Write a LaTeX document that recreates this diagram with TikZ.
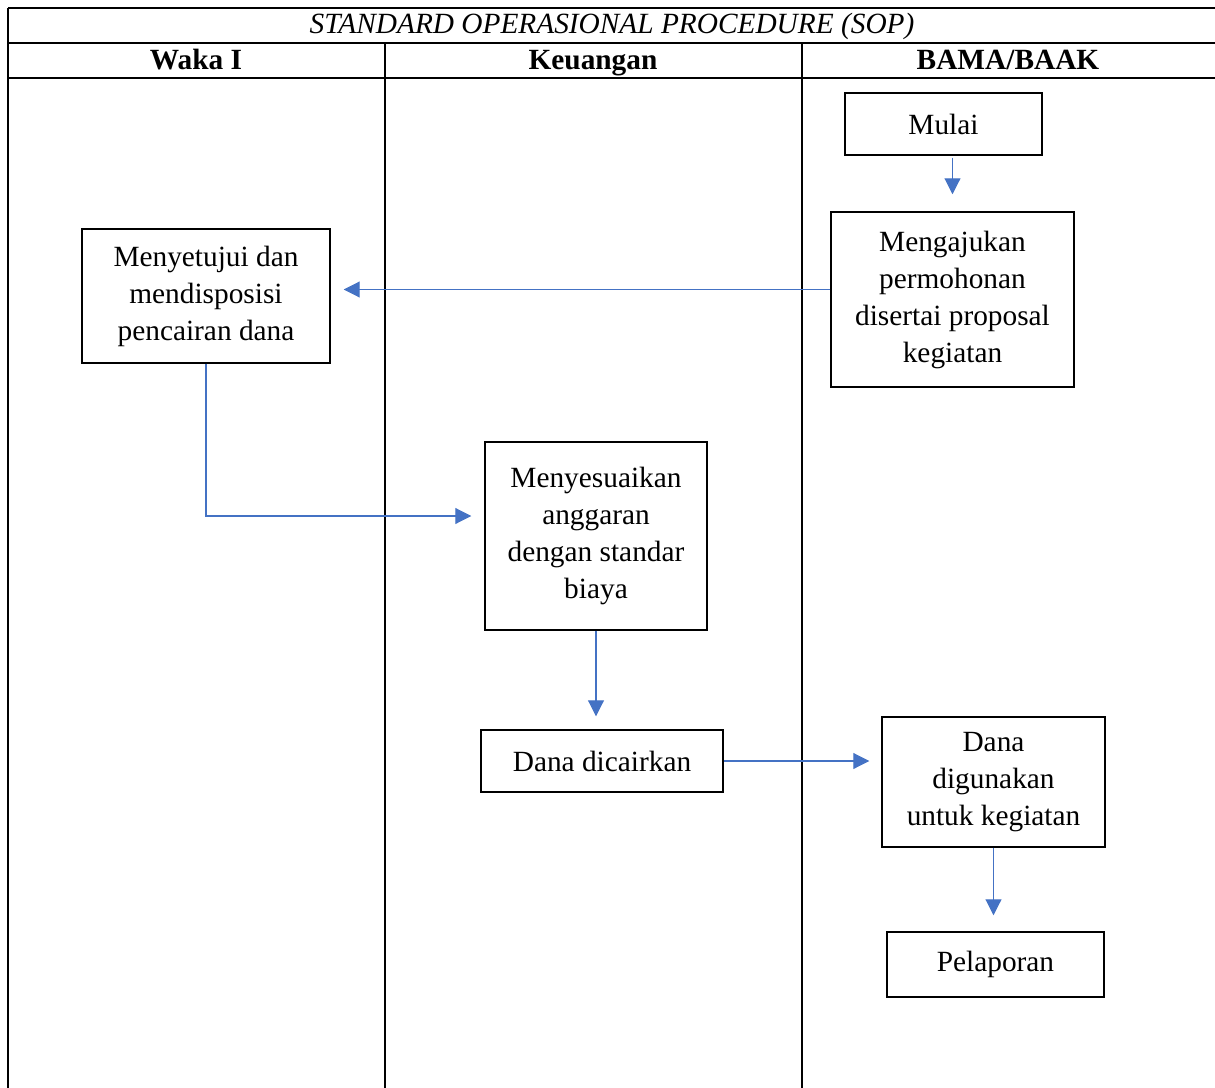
\documentclass[tikz,border=0pt]{standalone}
\usepackage{fontspec}
\setmainfont{Liberation Serif}
\usetikzlibrary{arrows.meta}

\definecolor{flowblue}{RGB}{68,114,196}

\tikzset{
  procbox/.style={draw, line width=1.1pt, align=center, inner sep=0pt,
    font=\fontsize{22}{27.75}\selectfont},
  flow/.style={draw=flowblue, line width=0.8pt,
    -{Triangle[length=12pt,width=12pt]}},
  headtext/.style={inner sep=0pt, anchor=base, font=\fontsize{22}{26}\selectfont\bfseries},
}

\begin{document}
\begin{tikzpicture}[x=0.75pt,y=0.75pt,yscale=-1,xscale=1]
        \useasboundingbox (0,0) rectangle (1215,1088);

        %Table lines
        \draw [line width=1.1pt] (8,8) -- (1215,8) ;
        \draw [line width=1.1pt] (8,43) -- (1215,43) ;
        \draw [line width=1.1pt] (8,78) -- (1215,78) ;
        \draw [line width=1.1pt] (8,8) -- (8,1088) ;
        \draw [line width=1.1pt] (385,43) -- (385,1088) ;
        \draw [line width=1.1pt] (802,43) -- (802,1088) ;

        % Text Node
        \node [inner sep=0pt, anchor=base, font=\fontsize{22}{26}\selectfont\itshape] (title) at (612,34) {STANDARD OPERASIONAL PROCEDURE (SOP)};
        % Text Node
        \node [headtext] (waka) at (196,70) {Waka I};
        % Text Node
        \node [headtext] (keu) at (593,70) {Keuangan};
        % Text Node
        \node [headtext] (bama) at (1008,70) {BAMA/BAAK};

        %Shape: Rectangle
        \node [procbox, minimum width=147.75pt, minimum height=46.5pt] (mulai) at (943.5,124) {Mulai};
        %Shape: Rectangle
        \node [procbox, minimum width=182.25pt, minimum height=131.25pt] (ajukan) at (952.5,299.5) {Mengajukan\\permohonan\\disertai proposal\\kegiatan};
        %Shape: Rectangle
        \node [procbox, minimum width=186pt, minimum height=100.5pt] (setuju) at (206,296) {Menyetujui dan\\mendisposisi\\pencairan dana};
        %Shape: Rectangle
        \node [procbox, minimum width=166.5pt, minimum height=141pt] (sesuai) at (596,536) {Menyesuaikan\\anggaran\\dengan standar\\biaya};
        %Shape: Rectangle
        \node [procbox, minimum width=181.5pt, minimum height=46.5pt] (cair) at (602,761) {Dana dicairkan};
        %Shape: Rectangle
        \node [procbox, minimum width=167.25pt, minimum height=97.5pt] (guna) at (993.5,782) {Dana\\digunakan\\untuk kegiatan};
        %Shape: Rectangle
        \node [procbox, minimum width=162.75pt, minimum height=48.75pt] (lapor) at (995.5,964.5) {Pelaporan};

        %Straight Lines
        \draw [flow, shorten <=1.5pt, shorten >=12.75pt] (mulai.south -| ajukan.north) -- (ajukan.north) ;
        \draw [flow, shorten >=9.75pt] ([yshift=-7.5pt]ajukan.west) -- ([yshift=-7.5pt]ajukan.west -| setuju.east) ;
        \draw [flow, shorten >=9.75pt] (setuju.south) |- ([yshift=-15pt]sesuai.west) ;
        \draw [flow, shorten >=9.75pt] (sesuai.south) -- (sesuai.south |- cair.north) ;
        \draw [flow, shorten >=9pt] (cair.east) -- (cair.east -| guna.west) ;
        \draw [flow, shorten >=12pt] (guna.south) -- (guna.south |- lapor.north) ;

\end{tikzpicture}
\end{document}
